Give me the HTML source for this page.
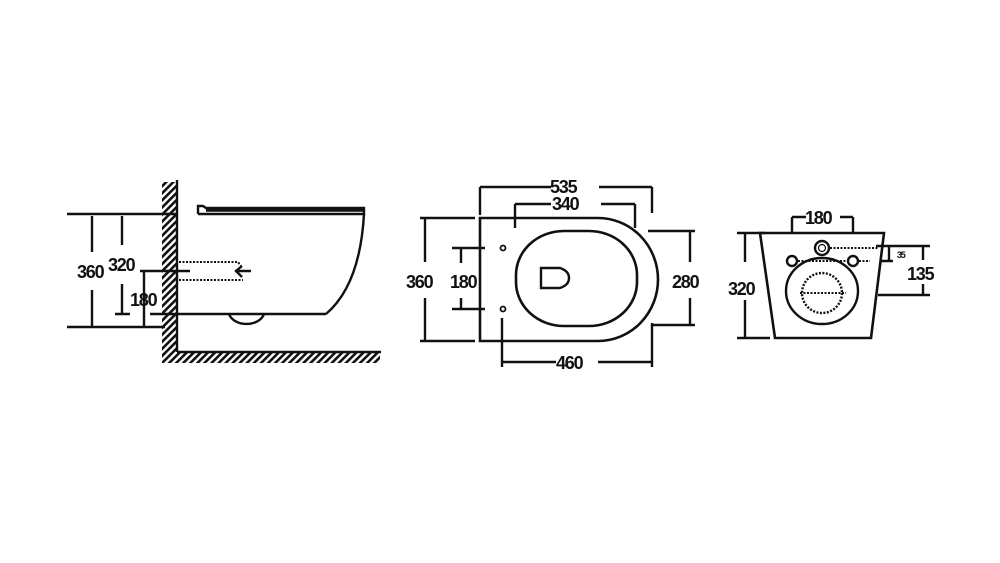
<!DOCTYPE html>
<html><head><meta charset="utf-8"><style>
html,body{margin:0;padding:0;background:#fff;width:1000px;height:563px;overflow:hidden}
text{font-family:"Liberation Sans",Arial,sans-serif;font-weight:bold;fill:#111;letter-spacing:-1.2px}
</style></head><body>
<svg width="1000" height="563" viewBox="0 0 1000 563" xmlns="http://www.w3.org/2000/svg">
<defs>
<pattern id="h" width="5" height="5" patternUnits="userSpaceOnUse" patternTransform="rotate(45)">
<rect width="2.6" height="5" fill="#111"/></pattern>
</defs>
<g stroke="#111" stroke-width="2.4" fill="none">
<!-- side view -->
<rect x="162" y="182" width="14" height="170" fill="url(#h)" stroke="none"/>
<rect x="162" y="352" width="218" height="11" fill="url(#h)" stroke="none"/>
<line x1="177" y1="180" x2="177" y2="352"/>
<line x1="177" y1="352" x2="381" y2="352"/>
<line x1="67" y1="214" x2="177" y2="214"/>
<path d="M198,214 V206 H203 L206,208 H364 V214 H198 M206,210.5 H364"/>
<path d="M364,214 Q360,285 326,314"/>
<line x1="150" y1="314" x2="326" y2="314"/>
<path d="M229,314 A18,13 0 0 0 264,314"/>
<line x1="67" y1="327" x2="165" y2="327"/>
<path d="M92,216 V252 M92,290 V327"/>
<path d="M122,216 V245 M122,284 V314 M115,314 H130"/>
<path d="M140,271 H190 M144,271 V327"/>
<g stroke-dasharray="2,1.5" stroke-width="2">
<path d="M179,262 H238 L241,266 M179,280 H243"/>
</g>
<path d="M235,271 H251 M242,266 L236,271 L242,277"/>
<!-- top view -->
<path d="M480,218 H598 A60,61.5 0 0 1 598,341 H480 Z" stroke-width="2.6"/>
<rect x="516" y="231" width="121" height="95" rx="48" ry="44" stroke-width="2.6"/>
<path d="M541,268 H560 Q569,271 569,278 Q569,285 560,288 H541 Z"/>
<circle cx="503" cy="248" r="2.5" stroke-width="1.8"/>
<circle cx="503" cy="309" r="2.5" stroke-width="1.8"/>
<path d="M480,187 H551 M599,187 H652 M480,187 V215 M652,187 V213"/>
<path d="M515,204 H551 M601,204 H635 M515,204 V228 M635,204 V228"/>
<path d="M420,218 H475 M420,341 H475 M425,218 V262 M425,298 V341"/>
<path d="M452,248 H485 M452,309 H485 M461,248 V263 M461,298 V309"/>
<path d="M648,231 H695 M652,325 H695 M690,231 V262 M690,298 V325"/>
<path d="M502,318 V367 M652,323 V367 M502,362 H556 M598,362 H652"/>
<!-- back view -->
<path d="M760,233 H884 L871,338 H775 Z" stroke-width="2.6"/>
<path d="M792,217 H806 M840,217 H853 M792,217 V233 M853,217 V233"/>
<path d="M737,233 H765 M737,338 H770 M745,233 V262 M745,300 V338"/>
<circle cx="822" cy="248" r="7"/>
<circle cx="822" cy="248" r="3.5" stroke-width="1.2"/>
<circle cx="792" cy="261" r="5"/>
<circle cx="853" cy="261" r="5"/>
<ellipse cx="822" cy="291" rx="36" ry="33"/>
<circle cx="822" cy="293" r="20" stroke-dasharray="2,1.5" stroke-width="2.4"/>
<g stroke-dasharray="2,1.5" stroke-width="2">
<path d="M830,248 H878 M798,261 H846 M859,261 H870 M800,293 H846"/>
</g>
<path d="M876,246 H930 M880,261 H893 M889,246 V261 M923,246 V260 M923,284 V295 M878,295 H930"/>
</g>
<g font-size="18">
<text x="77" y="278">360</text>
<text x="108" y="271">320</text>
<text x="130" y="306">180</text>
<text x="550" y="193">535</text>
<text x="552" y="210">340</text>
<text x="406" y="288">360</text>
<text x="450" y="288">180</text>
<text x="672" y="288">280</text>
<text x="556" y="369">460</text>
<text x="805" y="224">180</text>
<text x="728" y="295">320</text>
<text x="907" y="280">135</text>
</g>
<text x="897" y="258" font-size="9">35</text>
</svg>
</body></html>
